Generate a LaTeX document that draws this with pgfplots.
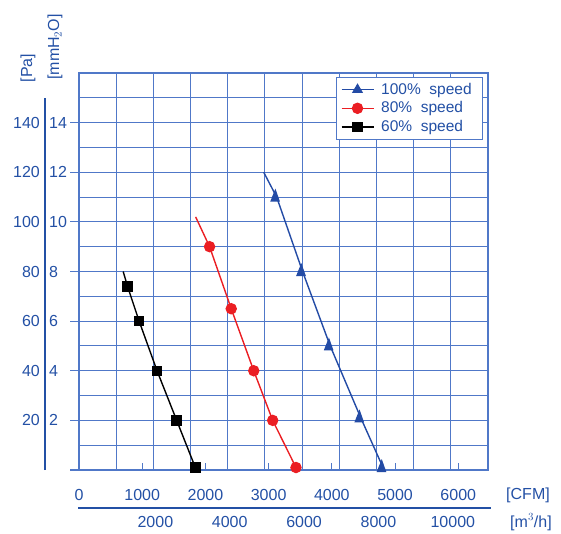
\documentclass[border=0pt]{standalone}
\usepackage{fontspec}
\setmainfont{Liberation Sans}
\usepackage{pgfplots}
\pgfplotsset{compat=1.18}
\definecolor{txtblue}{RGB}{35,80,165}
\definecolor{gridblue}{RGB}{80,120,200}
\definecolor{lblue}{RGB}{35,75,165}
\definecolor{lred}{RGB}{235,30,35}
\pgfdeclareplotmark{rtri}{%
  \pgfpathmoveto{\pgfqpoint{-1.3pt}{6.5pt}}%
  \pgfpathlineto{\pgfqpoint{2.3pt}{-3.8pt}}%
  \pgfpathlineto{\pgfqpoint{-5.4pt}{-3.8pt}}%
  \pgfpathclose\pgfusepathqfillstroke}
\begin{document}
\fontsize{16}{19}\selectfont
\begin{tikzpicture}
\path[use as bounding box] (0pt,0pt) rectangle (561pt,533pt);
\begin{axis}[
  at={(79pt,63pt)}, anchor=south west,
  scale only axis, width=409pt, height=397pt,
  xmin=0, xmax=11000, ymin=0, ymax=160,
  xtick={0,1000,...,11000}, ytick={0,10,...,160},
  xticklabels={}, yticklabels={},
  scaled x ticks=false, scaled y ticks=false,
  xtick pos=lower, ytick pos=left,
  major tick length=0pt,
  grid=major,
  major grid style={gridblue, line width=1.1pt},
  axis line style={gridblue, line width=1.3pt},
  tick style={gridblue, line width=1.1pt},
  extra x ticks={1700,3400,5100,6800,8500,10200},
  extra x tick labels={},
  extra x tick style={grid=none, major tick length=7pt, tick align=inside},
  extra y ticks={0,20,40,60,80,100,120,140},
  extra y tick labels={},
  extra y tick style={grid=none, major tick length=9pt, tick align=outside},
  clip=false,
  legend style={at={(rel axis cs:0.988,0.99)}, anchor=north east,
    draw=gridblue, line width=0.8pt, fill=white, text=txtblue,
    font=\fontsize{15.5}{18}\selectfont, row sep=1pt, inner xsep=4pt, inner ysep=3.5pt,
    nodes={inner xsep=7pt}},
  legend cell align=left,
  legend image code/.code={\draw[#1, mark indices={2}] plot coordinates {(0pt,0pt) (16pt,0pt) (32pt,0pt)};},
]
\addplot[lblue, line width=1.4pt, mark=rtri, mark indices={2,3,4,5,6},
  legend image post style={mark=triangle*, mark size=5pt}] coordinates {
  (4968,120) (5316,110) (6013,80) (6756,50) (7579,21) (8177,1)};
\addlegendentry{100\%\ \ speed}
\addplot[lred, line width=1.4pt, mark=*, mark size=5pt, mark indices={2,3,4,5,6}] coordinates {
  (3137,102) (3512,90) (4094,65) (4700,40) (5209,20) (5836,1)};
\addlegendentry{80\%\ \ speed}
\addplot[black, line width=1.4pt, mark=square*, mark size=4.5pt, mark indices={2,3,4,5,6}] coordinates {
  (1188,80) (1306,74) (1617,60) (2099,40) (2627,20) (3129,1)};
\addlegendentry{60\%\ \ speed}
\end{axis}
% pixel mapping: x = 79 + p/11000*409 ; y = 63 + v/160*397
\foreach \v/\m in {20/2,40/4,60/6,80/8,100/10,120/12,140/14}{
  \pgfmathsetmacro{\yy}{63+\v/160*397}
  \node[anchor=east, text=txtblue, inner sep=0pt] at (40pt,\yy pt) {\v};
  \node[anchor=west, text=txtblue, inner sep=0pt] at (49pt,\yy pt) {\m};
}
\draw[txtblue, line width=1.3pt] (45pt,63pt) -- (45pt,435.2pt);
\foreach \p/\t in {0/0,1700/1000,3400/2000,5100/3000,6800/4000,8500/5000,10200/6000}{
  \pgfmathsetmacro{\xx}{79+\p/11000*409}
  \node[text=txtblue, inner sep=0pt] at (\xx pt,38pt) {\t};
}
\node[text=txtblue, inner sep=0pt] at (528pt,38pt) {[CFM]};
\draw[txtblue, line width=1.3pt] (78pt,25pt) -- (491pt,25pt);
\foreach \p in {2000,4000,6000,8000,10000}{
  \pgfmathsetmacro{\xx}{81+\p/11000*409}
  \node[text=txtblue, inner sep=0pt] at (\xx pt,11pt) {\p};
}
\node[text=txtblue, inner sep=0pt] at (531pt,11pt) {[m$^{3}$/h]};
\node[rotate=90, text=txtblue, inner sep=0pt] at (28pt,465pt) {[Pa]};
\node[rotate=90, text=txtblue, inner sep=0pt] at (55pt,486pt) {[mmH$_2$O]};
\end{tikzpicture}
\end{document}
